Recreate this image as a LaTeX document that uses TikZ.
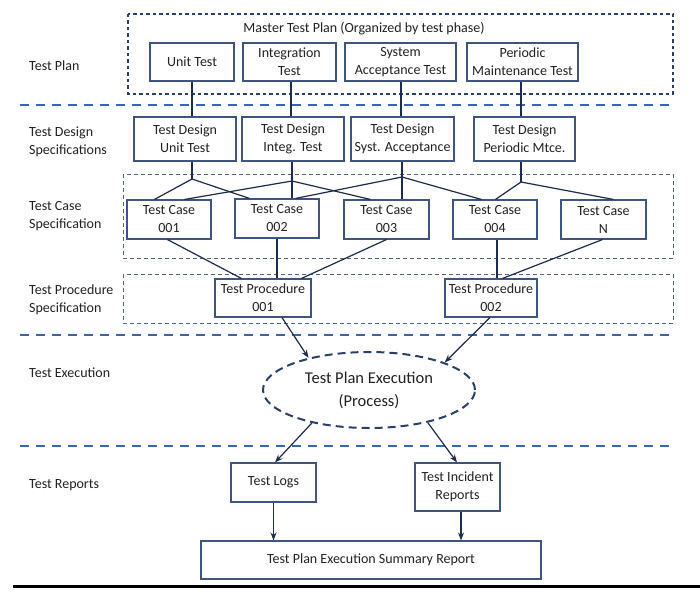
\documentclass[tikz,border=0pt]{standalone}
\usepackage{fontspec}
\setmainfont{Carlito}
\usetikzlibrary{arrows.meta,shapes.geometric,calc}
\definecolor{navy}{HTML}{2B3F68}
\definecolor{boxc}{HTML}{3F5580}
\definecolor{sepblue}{HTML}{3A67B0}
\definecolor{grayd}{HTML}{55627E}
\definecolor{txt}{HTML}{222222}
\definecolor{ln}{HTML}{1C2B4E}
\begin{document}
\begin{tikzpicture}[x=1pt,y=-1pt,
  font=\fontsize{14}{18}\selectfont, text=txt,
  box/.style={draw=boxc, line width=1.1pt, fill=white, inner sep=0pt, align=center},
  lbl/.style={anchor=west, align=left, inner sep=0pt},
  outerdash/.style={draw=navy, line width=1.2pt, dash pattern=on 3.5pt off 3pt},
  innerdash/.style={draw=grayd, line width=1pt, dash pattern=on 4pt off 3pt},
  sep/.style={draw=sepblue, line width=2pt, dash pattern=on 9pt off 7pt},
  conn/.style={draw=ln, line width=1.2pt},
  thickconn/.style={draw=ln, line width=2pt},
  arr/.style={draw=ln, line width=1.2pt, -{Stealth[length=8pt,width=6pt]}}
]
\useasboundingbox (0,0) rectangle (700,599);
\fill[white] (0,0) rectangle (700,599);

% separators and frames
\draw[sep] (20,105) -- (672,105);
\draw[sep] (20,335) -- (672,335);
\draw[sep] (20,446) -- (672,446);
\draw[draw=black, line width=3pt] (13,586) -- (700,586);
\draw[outerdash] (128,14) rectangle (673,94);
\draw[innerdash] (123,174) rectangle (673,258);
\draw[innerdash] (123,274) rectangle (673,323);

% row labels
\node[lbl] (lplan) at (29,66) {Test Plan};
\node[lbl] (ldesign) at (29,142) {Test Design\\Specifications};
\node[lbl] (lcase) at (29,216) {Test Case\\Specification};
\node[lbl] (lproc) at (29,300) {Test Procedure\\Specification};
\node[lbl] (lexec) at (29,373) {Test Execution};
\node[lbl] (lrep) at (29,485) {Test Reports};

% master test plan
\node[inner sep=0pt] (mtitle) at (364,29) {Master Test Plan (Organized by test phase)};
\node[box, minimum width=84, minimum height=38] (unit) at (192,62) {Unit Test};
\node[box, minimum width=93, minimum height=38] (integ) at (289.5,62) {Integration\\Test};
\node[box, minimum width=111, minimum height=38] (syst) at (400.5,62) {System\\Acceptance Test};
\node[box, minimum width=111, minimum height=38] (peri) at (522.5,62) {Periodic\\Maintenance Test};

% test design
\node[box, minimum width=102, minimum height=44] (tdu) at (185,139) {Test Design\\Unit Test};
\node[box, minimum width=102, minimum height=44] (tdi) at (293,139) {Test Design\\Integ. Test};
\node[box, minimum width=103, minimum height=44] (tds) at (402.5,139) {Test Design\\Syst. Acceptance};
\node[box, minimum width=101, minimum height=44] (tdp) at (524.5,139) {Test Design\\Periodic Mtce.};

% test cases
\node[box, minimum width=84, minimum height=39] (tc1) at (169,219.5) {Test Case\\001};
\node[box, minimum width=84, minimum height=39] (tc2) at (277,218.5) {Test Case\\002};
\node[box, minimum width=85, minimum height=39] (tc3) at (386.5,219.5) {Test Case\\003};
\node[box, minimum width=84, minimum height=39] (tc4) at (495,219.5) {Test Case\\004};
\node[box, minimum width=85, minimum height=39] (tcn) at (603.5,219.5) {Test Case\\N};

% procedures
\node[box, minimum width=96, minimum height=38] (tp1) at (263,298) {Test Procedure\\001};
\node[box, minimum width=92, minimum height=38] (tp2) at (491,298) {Test Procedure\\002};

% execution
\node[ellipse, draw=navy, line width=2pt, dash pattern=on 8pt off 5pt, minimum width=212, minimum height=76, inner sep=0pt, align=center, font=\fontsize{16.5}{23}\selectfont] (ell) at (369,390) {Test Plan Execution\\(Process)};

% reports
\node[box, minimum width=85, minimum height=39] (logs) at (273.5,482.5) {Test Logs};
\node[box, minimum width=85, minimum height=48] (inc) at (457.5,487) {Test Incident\\Reports};
\node[box, minimum width=340, minimum height=38] (sum) at (371,560) {Test Plan Execution Summary Report};

% master -> design
\draw[conn] (unit.south) -- (unit.south |- tdu.north);
\draw[conn] ([xshift=1.5pt]integ.south) -- ([xshift=1.5pt]integ.south |- tdi.north);
\draw[conn] ([xshift=0.5pt]syst.south) -- ([xshift=0.5pt]syst.south |- tds.north);
\draw[conn] ([xshift=-1.5pt]peri.south) -- ([xshift=-1.5pt]peri.south |- tdp.north);

% split points
\coordinate (su) at (192,179);
\coordinate (si) at (292,181);
\coordinate (ss) at (402,177);
\coordinate (sp) at (521,182);

\draw[conn] (tdu.south -| su) -- (su);
\draw[conn] (tdi.south -| si) -- (si);
\draw[thickconn] (tds.south -| ss) -- (ss);
\draw[conn] (tdp.south -| sp) -- (sp);

% design -> cases
\draw[conn] (su) -- ([xshift=28pt]tc1.north west);
\draw[conn] (su) -- ([xshift=15pt]tc2.north west);
\draw[conn] (si) -- ([xshift=58pt]tc1.north west);
\draw[conn] (si) -- (si |- tc2.north);
\draw[conn] (si) -- ([xshift=27pt]tc3.north west);
\draw[conn] (ss) -- ([xshift=61pt]tc2.north west);
\draw[thickconn] (ss) -- (ss |- tc3.north);
\draw[conn] (ss) -- ([xshift=29pt]tc4.north west);
\draw[conn] (sp) -- ([xshift=43pt]tc4.north west);
\draw[conn] (sp) -- ([xshift=53pt]tcn.north west);

% cases -> procedures
\draw[conn] ([xshift=41pt]tc1.south west) -- ([xshift=27pt]tp1.north west);
\draw[thickconn] ([xshift=43pt]tc2.south west) -- ([xshift=43pt]tc2.south west |- tp1.north);
\draw[conn] ([xshift=43pt]tc3.south west) -- ([xshift=87pt]tp1.north west);
\draw[thickconn] ([xshift=45pt]tc4.south west) -- ([xshift=45pt]tc4.south west |- tp2.north);
\draw[conn] ([xshift=42pt]tcn.south west) -- ([xshift=58pt]tp2.north west);

% procedures -> execution
\draw[arr] ([xshift=19pt]tp1.south) -- (ell.152);
\draw[arr] ([xshift=-1pt]tp2.south) -- (ell.20);

% execution -> reports
\draw[arr] (ell.210) -- ([xshift=1.5pt]logs.north);
\draw[arr] (ell.331) -- ([xshift=-0.5pt]inc.north);

% reports -> summary
\draw[arr] (logs.south) -- (logs.south |- sum.north);
\draw[arr] ([xshift=3.5pt]inc.south) -- ([xshift=3.5pt]inc.south |- sum.north);
\end{tikzpicture}
\end{document}
